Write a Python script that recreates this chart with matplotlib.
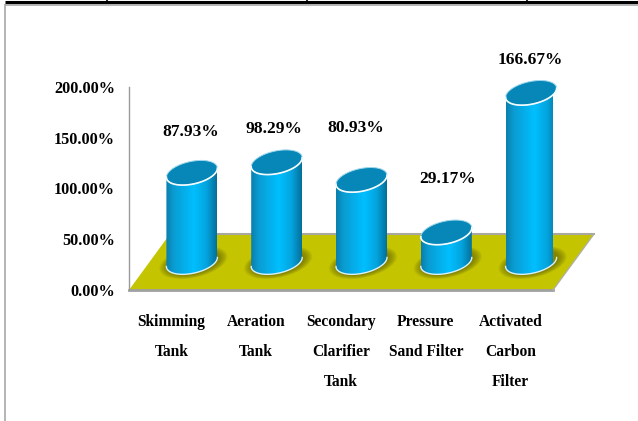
import numpy as np
import matplotlib
matplotlib.use("Agg")
import matplotlib.pyplot as plt
from matplotlib.lines import Line2D
from matplotlib.patches import Polygon
from matplotlib.colors import LinearSegmentedColormap

categories = ["Skimming\nTank", "Aeration\nTank", "Secondary\nClarifier\nTank",
              "Pressure\nSand Filter", "Activated\nCarbon\nFilter"]
values = [87.93, 98.29, 80.93, 29.17, 166.67]
y_ticks = [0, 50, 100, 150, 200]
y_tick_labels = ["0.00%", "50.00%", "100.00%", "150.00%", "200.00%"]

W, H = 638, 421
plt.rcParams["font.family"] = ["Liberation Serif", "DejaVu Serif"]
plt.rcParams["font.weight"] = "bold"

fig = plt.figure(figsize=(W / 100, H / 100), dpi=100, facecolor="white")
ax = fig.add_axes([129 / W, (H - 290) / H, 424 / W, 203 / H])
ax.set_xlim(-0.5, 4.5)
ax.set_ylim(0, 200)
ax.set_facecolor("none")

PX_X = 424 / 5      # pixels per category
PX_Y = 203 / 200    # pixels per percent
DEPTH_X = 41 / PX_X
DEPTH_Y = 56 / PX_Y
A, S, B = 25.5 / PX_X, 4.5 / PX_Y, 11.5 / PX_Y

# floor
ax.add_patch(Polygon([(-0.5, 0), (4.5, 0), (4.5 + DEPTH_X, DEPTH_Y), (-0.5 + DEPTH_X, DEPTH_Y)],
                     closed=True, fc="#C4C400", ec="none", zorder=1, clip_on=False))
ax.plot([-0.5 + DEPTH_X, 4.5 + DEPTH_X], [DEPTH_Y + 0.4] * 2, color="#A8A8A0", lw=1.5, zorder=1.1, clip_on=False)
ax.plot([-0.5, 4.5], [-0.4, -0.4], color="#A0A0A0", lw=2, zorder=1.1, clip_on=False)
ax.plot([4.5, 4.5 + DEPTH_X], [0, DEPTH_Y], color="#B0B0A0", lw=1, zorder=1.1, clip_on=False)

cmap = LinearSegmentedColormap.from_list(
    "cyl", [(0, "#0A7FAC"), (0.15, "#0A9CD2"), (0.55, "#00BFFF"), (0.8, "#04A4DE"), (1, "#04709A")])
grad = np.linspace(0, 1, 200).reshape(1, -1)
t = np.linspace(0, 2 * np.pi, 160)
low = np.linspace(np.pi, 2 * np.pi, 80)


def ring(cx, cy, tt, k=1.0):
    return cx + k * A * np.cos(tt), cy + k * (S * np.cos(tt) + B * np.sin(tt))


for i, v in enumerate(values):
    cx = i + DEPTH_X / 2
    base = DEPTH_Y / 2
    top = base + v

    # blurred contact shadow
    for k in np.linspace(1.34, 1.0, 12):
        sx, sy = ring(cx + 1.5 / PX_X, base - 0.5 / PX_Y, t, k)
        ax.add_patch(Polygon(np.c_[sx, sy], closed=True, fc="#5A5A00", ec="none",
                             alpha=0.065, zorder=2, clip_on=False))

    # body
    bx, by = ring(cx, base, low)
    tx, ty = ring(cx, top, low)
    body = Polygon(np.r_[np.c_[bx, by], np.c_[tx[::-1], ty[::-1]]], closed=True,
                   fc="none", ec="none", transform=ax.transData)
    ax.add_patch(body)
    im = ax.imshow(grad, cmap=cmap, aspect="auto", zorder=3,
                   extent=[cx - A, cx + A, base - S - B, top + S + B], clip_on=True)
    im.set_clip_path(body)

    # base rim and top face
    ax.plot(bx, by, color="#D8F0F8", lw=1, zorder=3.2, clip_on=False)
    fx, fy = ring(cx, top, t)
    ax.add_patch(Polygon(np.c_[fx, fy], closed=True, fc="#0787B8", ec="none", zorder=3.4, clip_on=False))
    ax.plot(fx, fy, color="#9FD8EC", lw=0.7, zorder=3.5, clip_on=False)
    ax.plot(tx, ty, color="#F4FBFD", lw=1.2, zorder=3.6, clip_on=False)

ax.set_xlim(-0.5, 4.5)
ax.set_ylim(0, 200)

# value labels: offsets in pixels from each cylinder's top
label_dx = [-1, -3, -6, 1, -1]
label_dy = [41, 33, 52, 53, 33]
for i, v in enumerate(values):
    ax.annotate(f"{v:.2f}%", xy=(i + DEPTH_X / 2, DEPTH_Y / 2 + v),
                xytext=(label_dx[i] * 0.72, label_dy[i] * 0.72), textcoords="offset points",
                ha="center", va="center", fontsize=12.5, color="black", zorder=5, annotation_clip=False)

# axes
for s in ["top", "right", "bottom"]:
    ax.spines[s].set_visible(False)
ax.spines["left"].set_color("#9A9A9A")
ax.spines["left"].set_linewidth(1)
ax.spines["left"].set_zorder(1.2)
ax.set_yticks(y_ticks)
ax.set_yticklabels(y_tick_labels, fontsize=11.7)
ax.tick_params(axis="y", length=0, pad=10)
ax.set_xticks(range(len(categories)))
ax.set_xticklabels(categories, fontsize=11.2, linespacing=2.2, va="top")
ax.tick_params(axis="x", length=0, pad=17)

# surrounding page frame
def fig_line(x0, y0, x1, y1, c, lw):
    fig.add_artist(Line2D([x0 / W, x1 / W], [1 - y0 / H, 1 - y1 / H], color=c, lw=lw,
                          solid_capstyle="butt"))

fig_line(5, 4.5, W, 4.5, "#A8A8A8", 1.2)
fig_line(5, 2.2, W, 2.2, "black", 2.2)
fig_line(5, 4, 5, H, "#A8A8A8", 1.2)
for x in [107, 307, 527]:
    fig_line(x, 0, x, 3, "black", 1.2)

fig.savefig("out.png", dpi=100, facecolor="white")
